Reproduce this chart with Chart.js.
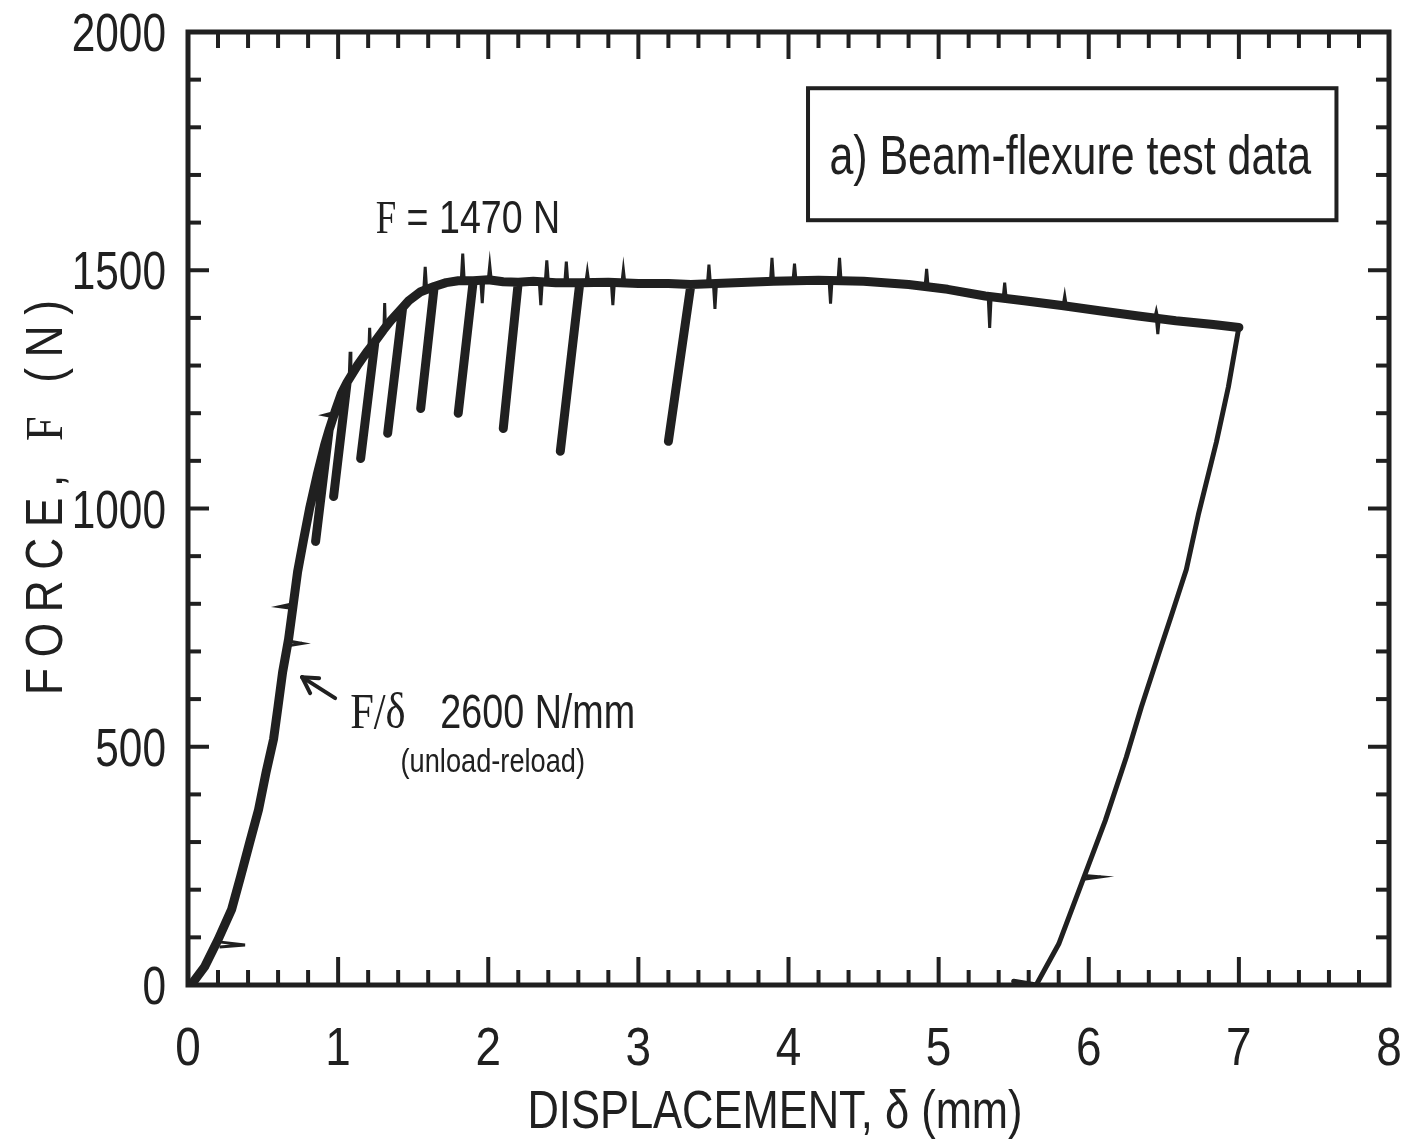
<!DOCTYPE html>
<html><head><meta charset="utf-8">
<script src="https://cdn.jsdelivr.net/npm/chart.js@4.4.1/dist/chart.umd.min.js"></script>
<style>html,body{margin:0;padding:0;background:#fff}#wrap{width:1419px;height:1147px;position:relative}</style>
</head><body><div id="wrap"><canvas id="c"></canvas></div>
<script>
// Loading curve with unload-reload cycles (mm, N)
const loadDisplacement = [0.02,0.11,0.20,0.29,0.35,0.41,0.47,0.52,0.57,0.60,0.63,0.67,0.70,0.73,0.77,0.81,0.86,0.91,0.94,
  0.85,0.94,0.98,1.02,1.06,
  0.97,1.06,1.13,1.19,1.245,
  1.15,1.245,1.30,1.35,1.43,
  1.33,1.43,1.47,1.55,1.64,
  1.55,1.64,1.72,1.80,1.90,
  1.80,1.90,2.00,2.10,2.20,
  2.10,2.20,2.30,2.45,2.61,
  2.48,2.61,2.80,3.00,3.20,3.35,
  3.20,3.35,3.60,3.90,4.20,4.50,4.80,5.06,5.31,5.57,5.82,6.07,6.33,6.58,6.83,7.00];
const loadForce = [0,38,95,158,227,298,368,446,516,585,656,726,796,867,935,1000,1070,1133,1165,
  931,1165,1204,1240,1265,
  1025,1265,1301,1328,1350,
  1105,1350,1374,1394,1422,
  1158,1422,1436,1455,1466,
  1210,1466,1474,1478,1478,
  1200,1478,1480,1476,1475,
  1168,1475,1477,1474,1474,
  1120,1474,1475,1472,1472,1470,
  1141,1470,1473,1477,1479,1477,1470,1460,1446,1436,1426,1415,1404,1394,1386,1380];
// Final unloading branch
const finalDisplacement = [7.00,6.93,6.85,6.73,6.65,6.55,6.47,6.35,6.25,6.11,5.95,5.80,5.65,5.50];
const finalForce = [1380,1255,1139,987,872,775,699,583,478,345,211,86,0,8];
// Noise spikes: triples of (base, tip, base)
const spikeX = [1.57,1.58,1.59, 1.82,1.83,1.84, 2.00,2.01,2.02, 2.38,2.39,2.40, 2.51,2.52,2.53, 2.65,2.66,2.67,
  2.89,2.90,2.91, 3.46,3.47,3.48, 3.88,3.89,3.90, 4.03,4.04,4.05, 4.33,4.34,4.35, 4.91,4.92,4.93,
  5.43,5.44,5.45, 5.83,5.84,5.85, 6.44,6.45,6.46,
  1.95,1.96,1.97, 2.34,2.35,2.36, 2.82,2.83,2.84, 3.50,3.51,3.52, 4.27,4.28,4.29, 5.33,5.34,5.35, 6.45,6.46,6.47,
  1.075,1.08,1.085, 1.205,1.21,1.215, 1.305,1.31,1.315, 0.975,0.91,0.98, 0.70,0.61,0.70, 0.665,0.76,0.67, 0.21,0.38,0.22, 5.965,6.08,5.97];
const spikeF = [1456,1507,1458, 1477,1535,1478, 1480,1511,1480, 1476,1521,1476, 1474,1518,1474, 1474,1497,1474,
  1473,1501,1473, 1471,1512,1471, 1477,1526,1477, 1478,1514,1478, 1479,1526,1479, 1467,1503,1466,
  1442,1474,1441, 1427,1446,1426, 1400,1414,1399,
  1479,1431,1479, 1476,1427,1476, 1474,1427,1474, 1471,1419,1471, 1479,1430,1479, 1446,1379,1445, 1400,1366,1399,
  1285,1329,1290, 1335,1379,1340, 1375,1431,1380, 1192,1196,1202, 790,794,800, 712,717,722, 80,84,90, 222,227,230];
const xTickValues = [0,1,2,3,4,5,6,7,8];
const xTickLabels = ['0','1','2','3','4','5','6','7','8'];
const yTickValues = [0,500,1000,1500,2000];
const yTickLabels = ['0','500','1000','1500','2000'];

const INK = '#202020';
const SANS = "'Liberation Sans',Arial,sans-serif";
const SERIF = "'Liberation Serif','Times New Roman',serif";
const NARROW_K = 0.82; // horizontal condensing to mimic a narrow face

const toPts = (xs, ys) => xs.map((v, i) => ({x: v, y: ys[i]}));
const spikePts = [];
for (let i = 0; i < spikeX.length; i += 3) {
  for (let j = 0; j < 3; j++) spikePts.push({x: spikeX[i + j], y: spikeF[i + j]});
  spikePts.push({x: spikeX[i + 2], y: null});
}

function drawText(ctx, parts, x, y, align, sx) {
  ctx.save();
  ctx.translate(x, y);
  ctx.scale(sx, 1);
  let total = 0;
  for (const [t, f] of parts) { ctx.font = f; total += ctx.measureText(t).width; }
  let cx = align === 'center' ? -total / 2 : align === 'right' ? -total : 0;
  ctx.textAlign = 'left';
  for (const [t, f] of parts) { ctx.font = f; ctx.fillText(t, cx, 0); cx += ctx.measureText(t).width; }
  ctx.restore();
}

const decor = {
  id: 'decor',
  afterDraw(chart) {
    const {ctx, chartArea: a, scales: {x, y}} = chart;
    const line = (x1, y1, x2, y2) => { ctx.beginPath(); ctx.moveTo(x1, y1); ctx.lineTo(x2, y2); ctx.stroke(); };
    ctx.save();
    ctx.strokeStyle = INK; ctx.fillStyle = INK;
    ctx.lineWidth = 5;
    ctx.strokeRect(a.left, a.top, a.right - a.left, a.bottom - a.top);
    ctx.lineWidth = 4;
    for (let i = 1; i < 40; i++) {
      const px = x.getPixelForValue(i * 0.2);
      const major = i % 5 === 0;
      line(px, a.bottom, px, a.bottom - (major ? 28 : 15));
      line(px, a.top, px, a.top + (major ? 27 : 16));
    }
    for (let i = 1; i < 20; i++) {
      const py = y.getPixelForValue(i * 100);
      const major = i % 5 === 0;
      line(a.left, py, a.left + (major ? 21 : 13), py);
      line(a.right, py, a.right - (major ? 21 : 13), py);
    }
    ctx.textBaseline = 'alphabetic';
    // tick labels
    xTickValues.forEach((v, i) => drawText(ctx, [[xTickLabels[i], `54px ${SANS}`]], x.getPixelForValue(v), a.bottom + 80, 'center', 0.85));
    yTickValues.forEach((v, i) => drawText(ctx, [[yTickLabels[i], `53px ${SANS}`]], a.left - 22, y.getPixelForValue(v) + 19, 'right', 0.8));
    // x title
    drawText(ctx, [['DISPLACEMENT, \u03b4 (mm)', `53px ${SANS}`]], x.getPixelForValue(3.91), a.bottom + 143, 'center', NARROW_K);

    // labelled box
    const bx1 = x.getPixelForValue(4.13), bx2 = x.getPixelForValue(7.65);
    const by1 = y.getPixelForValue(1882), by2 = y.getPixelForValue(1605);
    ctx.lineWidth = 4;
    ctx.strokeRect(bx1, by1, bx2 - bx1, by2 - by1);
    drawText(ctx, [['a) Beam-flexure test data', `55px ${SANS}`]], (bx1 + bx2) / 2 - 2, (by1 + by2) / 2 + 20, 'center', 0.78);

    // annotations
    drawText(ctx, [['F', `46px ${SERIF}`], [' = 1470 N', `47px ${SANS}`]], x.getPixelForValue(1.25), y.getPixelForValue(1578), 'left', 0.8);
    drawText(ctx, [['F/\u03b4', `50px ${SERIF}`]], x.getPixelForValue(1.08), y.getPixelForValue(539), 'left', 0.85);
    drawText(ctx, [['2600 N/mm', `49px ${SANS}`]], x.getPixelForValue(1.68), y.getPixelForValue(539), 'left', 0.77);
    drawText(ctx, [['(unload-reload)', `34px ${SANS}`]], x.getPixelForValue(2.03), y.getPixelForValue(447), 'center', 0.8);
    // arrow
    ctx.lineWidth = 4; ctx.lineCap = 'round';
    const tx = x.getPixelForValue(0.76), ty = y.getPixelForValue(646);
    const sx = x.getPixelForValue(0.98), sy = y.getPixelForValue(602);
    line(sx, sy, tx, ty);
    line(tx, ty, tx + 17, ty + 1);
    line(tx, ty, tx + 8, ty + 16);

    // y-axis title, letter-spaced
    ctx.save();
    ctx.translate(62, y.getPixelForValue(1023));
    ctx.rotate(-Math.PI / 2);
    const k = 0.85, target = 395;
    ctx.scale(k, 1);
    const parts = [['FORCE,', `52px ${SANS}`], [' ', `52px ${SANS}`], ['F', `52px ${SERIF}`], [' (N)', `52px ${SANS}`]];
    let w0 = 0, n = 0;
    ctx.letterSpacing = '0px';
    for (const [t, f] of parts) { ctx.font = f; w0 += ctx.measureText(t).width; n += t.length; }
    const spacing = Math.max(0, (target / k - w0) / (n - 1));
    ctx.letterSpacing = spacing.toFixed(2) + 'px';
    let cx = -target / k / 2;
    ctx.textAlign = 'left';
    for (const [t, f] of parts) { ctx.font = f; ctx.fillText(t, cx, 0); cx += ctx.measureText(t).width; }
    ctx.restore();
    ctx.restore();
  }
};

new Chart(document.getElementById('c'), {
  type: 'scatter',
  data: {
    datasets: [
      {label: 'loading', data: toPts(loadDisplacement, loadForce), showLine: true, borderColor: INK, borderWidth: 9, pointRadius: 0, tension: 0, borderJoinStyle: 'round', borderCapStyle: 'round'},
      {label: 'final unloading', data: toPts(finalDisplacement, finalForce), showLine: true, borderColor: INK, borderWidth: 5, pointRadius: 0, tension: 0, borderJoinStyle: 'round', borderCapStyle: 'round'},
      {label: 'noise', data: spikePts, showLine: true, spanGaps: false, borderColor: INK, borderWidth: 3, pointRadius: 0, tension: 0, borderJoinStyle: 'miter'}
    ]
  },
  options: {
    responsive: true, maintainAspectRatio: false, animation: false, devicePixelRatio: 1,
    layout: {padding: {left: 0, right: 30, top: 32, bottom: 0}},
    plugins: {legend: {display: false}, tooltip: {enabled: false}},
    scales: {
      x: {
        type: 'linear', min: 0, max: 8,
        afterFit: s => { s.height = 162; },
        grid: {display: false, drawTicks: false}, border: {display: false},
        ticks: {display: false, stepSize: 1},
        title: {display: false, text: 'DISPLACEMENT, \u03b4 (mm)'}
      },
      y: {
        type: 'linear', min: 0, max: 2000,
        afterFit: s => { s.width = 188; },
        grid: {display: false, drawTicks: false}, border: {display: false},
        ticks: {display: false, stepSize: 500},
        title: {display: false, text: 'FORCE, F (N)'}
      }
    }
  },
  plugins: [decor]
});
</script></body></html>
